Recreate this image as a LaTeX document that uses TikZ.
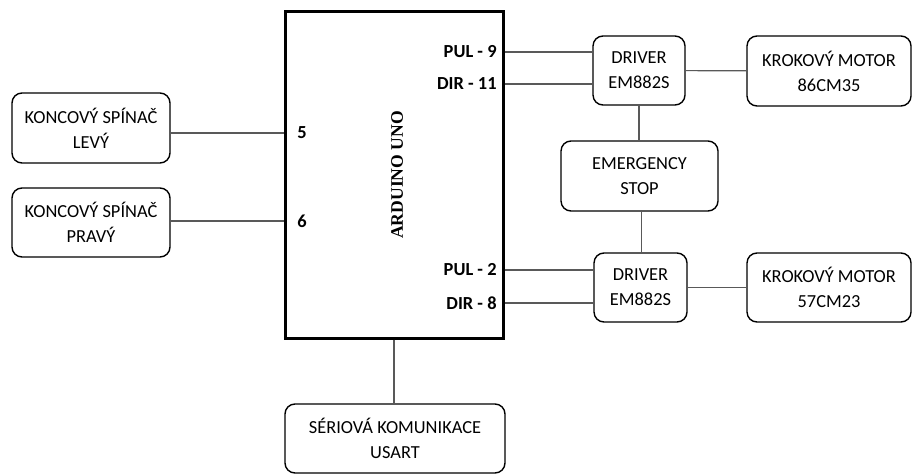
\documentclass[tikz,border=0pt]{standalone}
\usepackage{fontspec}
\setmainfont{Carlito}
\newfontfamily\unofont{Liberation Serif}
\usepackage{tikz}

\begin{document}
\begin{tikzpicture}[
        x=0.5pt, y=-0.5pt,
        box/.style={
            rectangle, rounded corners=5pt, draw=black, line width=0.7pt,
            text centered, align=center, inner sep=0pt,
            font=\fontsize{9.2}{12.5}\selectfont
        },
        mcuBox/.style={
            rectangle, draw=black, line width=1.5pt, inner sep=0pt,
            minimum width=109pt, minimum height=163pt
        },
        pin/.style={
            inner sep=0pt, font=\fontsize{9.2}{11}\selectfont\bfseries
        },
        wire/.style={
            line width=0.6pt, draw=black!65
        }
    ]
        \useasboundingbox (0,0) rectangle (913,475);

        % Main Nodes
        \node (arduino) [mcuBox] at (394,175) {};
        \node [rotate=90, font=\unofont\fontsize{8.8}{10}\selectfont\bfseries] at (397,175) {ARDUINO UNO};

        \node (levy) [box, minimum width=79pt, minimum height=35pt] at (91,128) {KONCOVÝ SPÍNAČ\\LEVÝ};
        \node (pravy) [box, minimum width=79pt, minimum height=34.5pt] at (91,222.5) {KONCOVÝ SPÍNAČ\\PRAVÝ};

        \node (drv1) [box, minimum width=46pt, minimum height=34.5pt] at (639,70.5) {DRIVER\\EM882S};
        \node (mot1) [box, minimum width=82pt, minimum height=35pt] at (829,71) {KROKOVÝ MOTOR\\86CM35};
        \node (estop) [box, minimum width=78.5pt, minimum height=35pt] at (639.5,176) {EMERGENCY\\STOP};
        \node (drv2) [box, minimum width=46.5pt, minimum height=34.5pt] at (640.5,287.5) {DRIVER\\EM882S};
        \node (mot2) [box, minimum width=82pt, minimum height=34.5pt] at (829,287.5) {KROKOVÝ MOTOR\\57CM23};
        \node (usart) [box, minimum width=110pt, minimum height=34.5pt] at (395,438.5) {SÉRIOVÁ KOMUNIKACE\\USART};

        % Pin Labels
        \node (p5) [pin, anchor=west] at (297,133) {5};
        \node (p6) [pin, anchor=west] at (297,221) {6};
        \node (pul9) [pin, anchor=east] at (497,52) {PUL - 9};
        \node (dir11) [pin, anchor=east] at (497,84) {DIR - 11};
        \node (pul2) [pin, anchor=east] at (497,270) {PUL - 2};
        \node (dir8) [pin, anchor=east] at (497,303) {DIR - 8};

        % Connectors
        \draw [wire] (levy.east |- p5) -- (arduino.west |- p5);
        \draw [wire] (pravy.east |- p6) -- (arduino.west |- p6);
        \draw [wire] (arduino.east |- pul9) -- (drv1.west |- pul9);
        \draw [wire] (arduino.east |- dir11) -- (drv1.west |- dir11);
        \draw [wire] (arduino.east |- pul2) -- (drv2.west |- pul2);
        \draw [wire] (arduino.east |- dir8) -- (drv2.west |- dir8);
        \draw [wire] (drv1) -- (mot1);
        \draw [wire] (drv2) -- (mot2);
        \draw [wire] (drv1.south) -- (drv1.south |- estop.north);
        \draw [wire] ([xshift=1pt]estop.south) -- ([xshift=1pt]estop.south |- drv2.north);
        \draw [wire] (arduino.south) -- (arduino.south |- usart.north);
    \end{tikzpicture}
\end{document}
